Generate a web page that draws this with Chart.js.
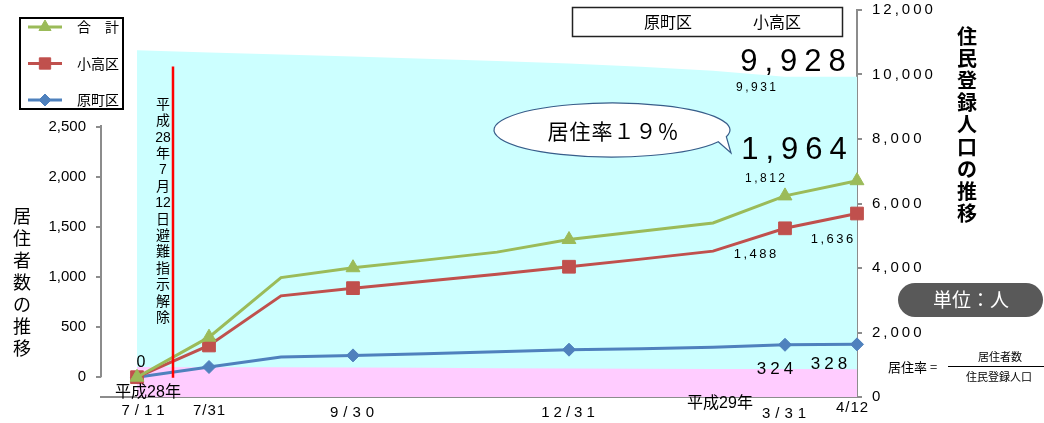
<!DOCTYPE html>
<html lang="ja">
<head>
<meta charset="utf-8">
<title>居住者数の推移</title>
<script src="https://cdn.jsdelivr.net/npm/chart.js@4.4.1/dist/chart.umd.min.js"></script>
<style>
  html, body { margin: 0; padding: 0; background: #fff; }
  #wrap { position: relative; width: 1044px; height: 423px; }
</style>
</head>
<body>
<div id="wrap"><canvas id="chart" width="1044" height="423"></canvas></div>
<script>
// --- data ---
const dates = ['7/11', '7/31', '8/31', '9/30', '10/31', '11/30', '12/31', '1/31', '2/28', '3/31', '4/12'];
const markedDates = ['7/11', '7/31', '9/30', '12/31', '3/31', '4/12'];

// residents (left axis)
const totalResidents     = [0, 400, 995, 1094, 1170, 1250, 1376, 1458, 1541, 1812, 1964];
const odakaResidents     = [0, 317, 813, 890, 960, 1030, 1104, 1180, 1260, 1488, 1636];
const haramachiResidents = [0, 102, 201, 218, 235, 255, 275, 285, 300, 324, 328];

// registered population (right axis)
const registeredPopulation = [10750, 10680, 10620, 10560, 10490, 10420, 10340, 10240, 10120, 9931, 9928];
const pinkBand             = [930, 925, 920, 915, 905, 895, 885, 875, 870, 865, 862];

const leftTicks  = [0, 500, 1000, 1500, 2000, 2500];
const rightTicks = [0, 2000, 4000, 6000, 8000, 10000, 12000];
const eraLabels  = [{ date: '7/11', text: '平成28年' }, { date: '3/31', text: '平成29年' }];

const releaseIndex = 0.5;   // 7/12 evacuation order lifted
const releaseText = ['平', '成', '28', '年', '7', '月', '12', '日', '避', '難', '指', '示', '解', '除'];

// --- styles ---
const FONT = "'Liberation Sans', Arial, 'Noto Sans CJK JP', sans-serif";
const JP = "'Noto Sans CJK JP', 'Liberation Sans', sans-serif";
const AXIS_GRAY = '#8c8c8c';

const lineSeries = [
  { key: 'total', label: '合　計', data: totalResidents, color: '#9BBB59', style: 'triangle', radius: 8, lr: 7 },
  { key: 'odaka', label: '小高区', data: odakaResidents, color: '#C0504D', style: 'rect', radius: 9, lr: 8 },
  { key: 'hara', label: '原町区', data: haramachiResidents, color: '#4F81BD', style: 'rectRot', radius: 6.5, lr: 6 },
];
const seriesByKey = { total: totalResidents, odaka: odakaResidents, hara: haramachiResidents, reg: registeredPopulation };

// value labels next to points: offsets are styling only
const pointLabels = [
  { key: 'odaka', date: '7/11', axis: 'yL', size: 16, sp: 0, dx: 4, dy: -15 },
  { key: 'total', date: '3/31', axis: 'yL', size: 12, sp: 2.5, dx: -20, dy: -17 },
  { key: 'total', date: '4/12', axis: 'yL', size: 31, sp: 7, dx: -63, dy: -30 },
  { key: 'odaka', date: '3/31', axis: 'yL', size: 13, sp: 2.5, dx: -30, dy: 26 },
  { key: 'odaka', date: '4/12', axis: 'yL', size: 13, sp: 2.5, dx: -25, dy: 26 },
  { key: 'hara', date: '3/31', axis: 'yL', size: 17, sp: 4, dx: -10, dy: 25 },
  { key: 'hara', date: '4/12', axis: 'yL', size: 17, sp: 4, dx: -28, dy: 20 },
  { key: 'reg', date: '3/31', axis: 'yR', size: 12, sp: 2.5, dx: -29, dy: 11 },
  { key: 'reg', date: '4/12', axis: 'yR', size: 31, sp: 7, dx: -64, dy: -14 },
];
const xLabelStyle = {
  '7/11': { dx: 6, y: 411, sp: 5 }, '7/31': { dx: 0, y: 411, sp: 1 }, '9/30': { dx: -1, y: 413, sp: 5 },
  '12/31': { dx: -1, y: 413, sp: 4 }, '3/31': { dx: -1, y: 414, sp: 5 }, '4/12': { dx: -5, y: 408, sp: 1 },
};
const eraStyle = { '7/11': { dx: 11, y: 393 }, '3/31': { dx: -65, y: 404 } };

const toPoints = arr => arr.map((v, i) => ({ x: i, y: v }));

function drawText(ctx, text, x, y, font, opts = {}) {
  const sp = opts.sp || 0;
  ctx.save();
  ctx.font = font;
  ctx.fillStyle = opts.color || '#000';
  ctx.textBaseline = 'middle';
  ctx.textAlign = 'left';
  const w = ctx.measureText(text).width + sp * ([...text].length - 1);
  let left = x - w / 2;
  if (opts.align === 'left') left = x;
  if (opts.align === 'right') left = x - w;
  ctx.letterSpacing = sp + 'px';
  ctx.fillText(text, left, y);
  ctx.restore();
}

function drawVertical(ctx, chars, x, y0, step, font) {
  chars.forEach((c, i) => drawText(ctx, c, x, y0 + i * step, font));
}

const overlay = {
  id: 'overlay',
  afterDraw(chart) {
    const { ctx, chartArea: area, scales } = chart;
    const { x, yL, yR } = scales;

    // left axis line only between 0 and 2,500
    ctx.save();
    ctx.strokeStyle = AXIS_GRAY;
    ctx.lineWidth = 2;
    ctx.beginPath();
    ctx.moveTo(area.left, yL.getPixelForValue(leftTicks[0]));
    ctx.lineTo(area.left, yL.getPixelForValue(leftTicks[leftTicks.length - 1]) - 2);
    ctx.stroke();

    // evacuation order lifted
    const rx = x.getPixelForValue(releaseIndex);
    ctx.strokeStyle = '#FF0000';
    ctx.lineWidth = 2.5;
    ctx.beginPath();
    ctx.moveTo(rx, yR.getPixelForValue(10250));
    ctx.lineTo(rx, yR.getPixelForValue(600));
    ctx.stroke();
    ctx.restore();
    drawVertical(ctx, releaseText, rx - 10, 105, 16.4, '14px ' + FONT);

    // right axis tick labels
    rightTicks.forEach(v => drawText(ctx, v.toLocaleString('en-US'), area.right + 15,
      yR.getPixelForValue(v), '15px ' + FONT, { sp: 3, align: 'left' }));

    // x labels
    markedDates.forEach(d => {
      const s = xLabelStyle[d];
      drawText(ctx, d, x.getPixelForValue(dates.indexOf(d)) + s.dx, s.y, '15px ' + FONT, { sp: s.sp });
    });
    eraLabels.forEach(e => {
      const s = eraStyle[e.date];
      drawText(ctx, e.text, x.getPixelForValue(dates.indexOf(e.date)) + s.dx, s.y, '16px ' + FONT);
    });

    // value labels
    pointLabels.forEach(l => {
      const i = dates.indexOf(l.date);
      const v = seriesByKey[l.key][i];
      const px = x.getPixelForValue(i) + l.dx;
      const py = scales[l.axis].getPixelForValue(v) + l.dy;
      drawText(ctx, v.toLocaleString('en-US'), px, py, l.size + 'px ' + FONT, { sp: l.sp });
    });

    // axis titles
    drawVertical(ctx, [...'居住者数の推移'], 22, 216, 22, '18px ' + JP);
    drawVertical(ctx, [...'住民登録人口の推移'], 967, 36, 22.2, 'bold 20px ' + JP);

    // legend box
    ctx.save();
    lineSeries.forEach((s, i) => {
      const ly = 27 + i * 36.5;
      ctx.strokeStyle = s.color;
      ctx.fillStyle = s.color;
      ctx.lineWidth = 3;
      ctx.beginPath();
      ctx.moveTo(28, ly);
      ctx.lineTo(62, ly);
      ctx.stroke();
      ctx.lineWidth = 1;
      Chart.helpers.drawPoint(ctx, { pointStyle: s.style, radius: s.lr, rotation: 0, borderWidth: 1 }, 45, ly);
      drawText(ctx, s.label, 77, ly, '14px ' + JP, { align: 'left' });
    });
    ctx.strokeStyle = '#000';
    ctx.lineWidth = 2;
    ctx.strokeRect(20, 18, 103, 91);
    ctx.restore();

    // header box
    ctx.save();
    ctx.strokeStyle = '#222';
    ctx.lineWidth = 1.5;
    ctx.strokeRect(572.5, 7.5, 270, 29);
    ctx.restore();
    drawText(ctx, '原町区', 668, 22, '16px ' + JP);
    drawText(ctx, '小高区', 777, 22, '16px ' + JP);

    // callout bubble
    ctx.save();
    ctx.beginPath();
    ctx.ellipse(612, 130, 118, 27, 0, 0.45, 0.25);
    ctx.lineTo(731, 153);
    ctx.closePath();
    ctx.fillStyle = '#fff';
    ctx.fill();
    ctx.strokeStyle = '#385D8A';
    ctx.lineWidth = 1.2;
    ctx.stroke();
    ctx.restore();
    drawText(ctx, '居住率１９％', 613, 131, '21px ' + JP, { sp: 1 });

    // unit badge
    ctx.save();
    ctx.fillStyle = '#595959';
    ctx.beginPath();
    ctx.roundRect(898, 283, 145, 34, 17);
    ctx.fill();
    ctx.restore();
    drawText(ctx, '単位：人', 971, 300, '19px ' + JP, { color: '#fff' });

    // formula
    drawText(ctx, '居住率 =', 888, 367, '13px ' + JP, { align: 'left' });
    ctx.save();
    ctx.strokeStyle = '#000';
    ctx.lineWidth = 1;
    ctx.beginPath();
    ctx.moveTo(948, 366.5);
    ctx.lineTo(1044, 366.5);
    ctx.stroke();
    ctx.restore();
    drawText(ctx, '居住者数', 1000, 357, '11px ' + JP);
    drawText(ctx, '住民登録人口', 999, 377, '11px ' + JP);
  }
};

const datasets = lineSeries.map((s, i) => ({
  label: s.label,
  data: toPoints(s.data),
  yAxisID: 'yL',
  borderColor: s.color,
  backgroundColor: s.color,
  borderWidth: 3,
  pointStyle: s.style,
  pointRadius: dates.map(d => markedDates.includes(d) ? s.radius : 0),
  pointBorderWidth: 1,
  fill: false,
  clip: false,
  order: i
}));
datasets.push({
  label: 'pink', data: toPoints(pinkBand), yAxisID: 'yR',
  backgroundColor: '#FFCCFF', borderWidth: 0, pointRadius: 0, fill: 'origin', order: 3
});
datasets.push({
  label: '住民登録人口', data: toPoints(registeredPopulation), yAxisID: 'yR',
  backgroundColor: '#CCFFFF', borderWidth: 0, pointRadius: 0, fill: 'origin', order: 4
});

const noPad = s => { s.paddingTop = 0; s.paddingBottom = 0; s.paddingLeft = 0; s.paddingRight = 0; };

new Chart(document.getElementById('chart'), {
  type: 'line',
  data: { datasets },
  options: {
    responsive: false,
    devicePixelRatio: 1,
    animation: false,
    layout: { padding: { top: 7 } },
    plugins: { legend: { display: false }, tooltip: { enabled: false } },
    scales: {
      x: {
        type: 'linear', min: -0.5, max: 10, z: 1,
        ticks: { display: false },
        grid: { display: false },
        border: { color: AXIS_GRAY, width: 2 },
        afterFit: s => { noPad(s); s.height = 26; }
      },
      yL: {
        position: 'left', min: -198, max: 3670,
        afterBuildTicks: s => { s.ticks = leftTicks.map(v => ({ value: v })); },
        ticks: { color: '#000', padding: 10, font: { size: 15, family: FONT }, callback: v => v.toLocaleString('en-US') },
        grid: { drawOnChartArea: false, tickLength: 5, color: AXIS_GRAY, lineWidth: 2 },
        border: { display: false },
        afterFit: s => { noPad(s); s.width = 101; }
      },
      yR: {
        position: 'right', min: 0, max: 12000, z: 1,
        afterBuildTicks: s => { s.ticks = rightTicks.map(v => ({ value: v })); },
        ticks: { display: false },
        grid: { drawOnChartArea: false, tickLength: 5, color: AXIS_GRAY, lineWidth: 2 },
        border: { color: AXIS_GRAY, width: 2 },
        afterFit: s => { noPad(s); s.width = 187; }
      }
    }
  },
  plugins: [overlay]
});
</script>
</body>
</html>
